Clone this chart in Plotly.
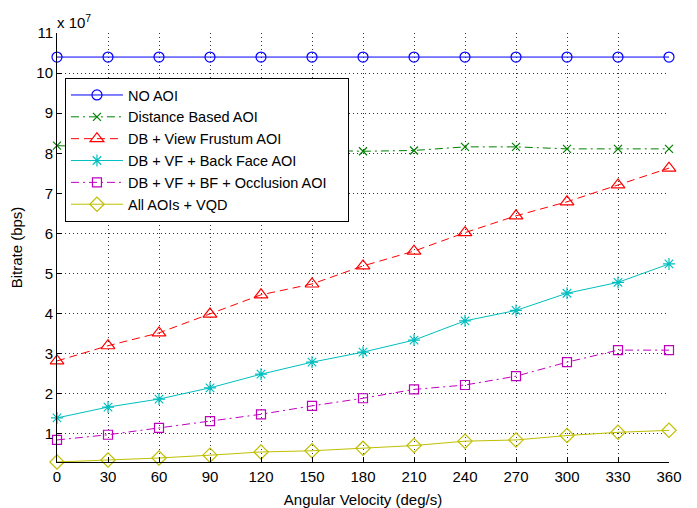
import plotly.graph_objects as go

# Angular velocity (deg/s)
velocity = [0, 30, 60, 90, 120, 150, 180, 210, 240, 270, 300, 330, 360]

# Bitrate per scheme, in units of 10^7 bps
no_aoi = [10.4, 10.4, 10.4, 10.4, 10.4, 10.4, 10.4, 10.4, 10.4, 10.4, 10.4, 10.4, 10.4]
distance_aoi = [8.19, 8.15, 8.12, 8.10, 8.12, 8.08, 8.05, 8.07, 8.16, 8.16, 8.11, 8.11, 8.11]
db_vf_aoi = [2.82, 3.20, 3.52, 3.99, 4.47, 4.74, 5.19, 5.56, 6.02, 6.44, 6.79, 7.21, 7.63]
db_vf_bf_aoi = [1.40, 1.67, 1.87, 2.15, 2.49, 2.79, 3.04, 3.34, 3.82, 4.08, 4.51, 4.78, 5.24]
db_vf_bf_occ_aoi = [0.85, 0.98, 1.15, 1.32, 1.49, 1.70, 1.89, 2.11, 2.22, 2.44, 2.79, 3.09, 3.09]
all_aoi_vqd = [0.30, 0.35, 0.40, 0.47, 0.55, 0.58, 0.64, 0.71, 0.82, 0.85, 0.96, 1.04, 1.09]

x_ticks = [0, 30, 60, 90, 120, 150, 180, 210, 240, 270, 300, 330, 360]
y_ticks = [1, 2, 3, 4, 5, 6, 7, 8, 9, 10, 11]

FONT = "Liberation Sans, Arial, sans-serif"
PAD = "\u00a0\u00a0\u00a0\u00a0"  # a little room on the right of the legend

series = [
    ("NO AOI", no_aoi, "rgb(0,0,255)", "solid", "circle-open", 10),
    ("Distance Based AOI", distance_aoi, "rgb(0,128,0)", "8px,4px,2px,4px", "x-thin-open", 8),
    ("DB + View Frustum AOI", db_vf_aoi, "rgb(255,0,0)", "8px,5px", "triangle-up-open", 12),
    ("DB + VF + Back Face AOI", db_vf_bf_aoi, "rgb(0,191,191)", "solid", "asterisk-open", 10),
    ("DB + VF + BF + Occlusion AOI" + PAD, db_vf_bf_occ_aoi, "rgb(191,0,191)", "8px,4px,2px,4px", "square-open", 9),
    ("All AOIs + VQD", all_aoi_vqd, "rgb(191,191,0)", "solid", "diamond-open", 11),
]

fig = go.Figure()
for name, vals, color, dash, symbol, size in series:
    fig.add_trace(go.Scatter(
        x=velocity, y=vals, name=name, mode="lines+markers",
        line=dict(color=color, width=1, dash=dash),
        marker=dict(symbol=symbol, size=size, color=color,
                    line=dict(color=color, width=1.2)),
        cliponaxis=False,
    ))

axis_common = dict(
    showline=True, linecolor="black", linewidth=1, mirror=False,
    ticks="inside", ticklen=5, tickcolor="black", tickwidth=1,
    showgrid=True, gridcolor="#333333", griddash="1px,3px", gridwidth=1,
    zeroline=False, automargin=False,
    tickfont=dict(family=FONT, size=15, color="black"),
)

fig.update_xaxes(range=[0, 360], tickvals=x_ticks, ticklabelstandoff=1,
                 title=dict(text="Angular Velocity (deg/s)", standoff=12,
                            font=dict(family=FONT, size=15, color="black")),
                 **axis_common)
fig.update_yaxes(range=[0.3, 11], tickvals=y_ticks,
                 title=dict(text="Bitrate (bps)", standoff=10,
                            font=dict(family=FONT, size=15, color="black")),
                 **axis_common)

fig.add_annotation(text="x 10<sup>7</sup>", xref="paper", yref="paper",
                   x=0, y=1, xanchor="left", yanchor="bottom", showarrow=False,
                   font=dict(family=FONT, size=15, color="black"), xshift=-2)

fig.update_layout(
    width=697, height=508,
    margin=dict(l=57, r=28, t=33, b=46),
    plot_bgcolor="white", paper_bgcolor="white",
    font=dict(family=FONT, size=15, color="black"),
    legend=dict(x=0.013, y=0.895, xanchor="left", yanchor="top",
                bgcolor="white", bordercolor="black", borderwidth=1,
                font=dict(family=FONT, size=14.5, color="black"),
                itemwidth=52, tracegroupgap=0),
    showlegend=True,
)

fig.write_html("out.html")
